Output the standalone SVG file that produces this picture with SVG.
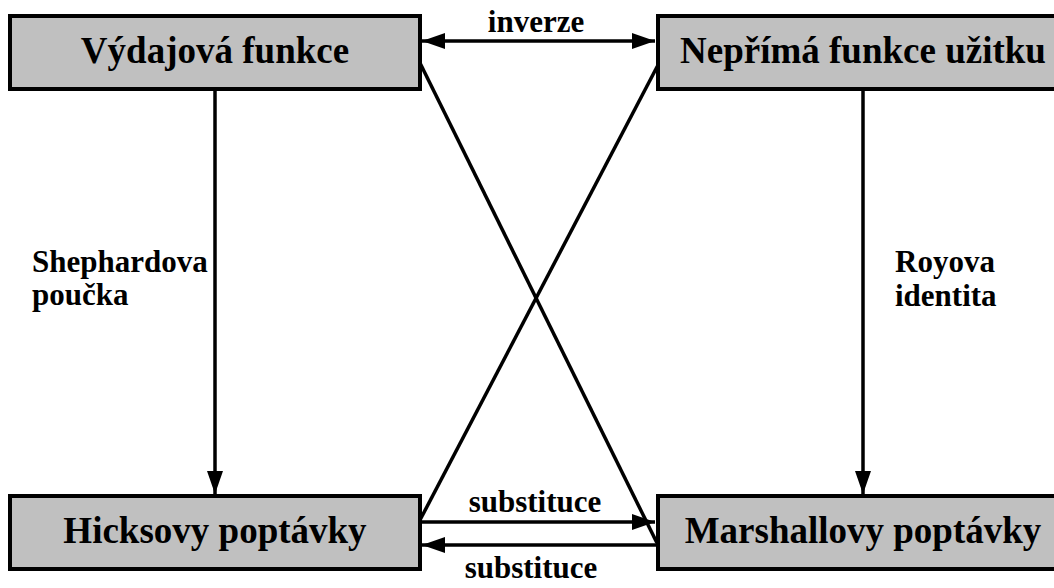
<svg xmlns="http://www.w3.org/2000/svg" width="1054" height="588" viewBox="0 0 1054 588">
<style>
.box{fill:#c0c0c0;stroke:#000;stroke-width:4}
.bt{font-family:"Liberation Serif","Times New Roman",serif;font-weight:bold;font-size:37px;text-anchor:middle;fill:#000}
.lb{font-family:"Liberation Serif","Times New Roman",serif;font-weight:bold;font-size:31px;fill:#000}
.c{stroke:#000;stroke-width:3.5;fill:none}
</style>
<defs>
<marker id="ah" markerUnits="userSpaceOnUse" viewBox="0 0 23 16" markerWidth="23" markerHeight="16" refX="23" refY="8" orient="auto-start-reverse">
<path d="M0,0 L23,8 L0,16 z" fill="#000"/>
</marker>
</defs>
<g id="connectors">
<line class="c" x1="422" y1="41" x2="655" y2="41" marker-start="url(#ah)" marker-end="url(#ah)"/>
<line class="c" x1="215" y1="90" x2="215" y2="494" marker-end="url(#ah)"/>
<line class="c" x1="863" y1="90" x2="863" y2="494" marker-end="url(#ah)"/>
<line class="c" x1="420" y1="63" x2="657" y2="543"/>
<line class="c" x1="658" y1="65" x2="420" y2="520"/>
<line class="c" x1="421" y1="522" x2="655" y2="522" marker-end="url(#ah)"/>
<line class="c" x1="657" y1="545" x2="422" y2="545" marker-end="url(#ah)"/>
<text class="lb" x="536" y="32" text-anchor="middle">inverze</text>
<text class="lb" x="32" y="272">Shephardova</text>
<text class="lb" x="32" y="305">poučka</text>
<text class="lb" x="895" y="272">Royova</text>
<text class="lb" x="895" y="306">identita</text>
<text class="lb" x="535" y="512" text-anchor="middle">substituce</text>
<text class="lb" x="531" y="578" text-anchor="middle">substituce</text>
</g>
<g id="vydajova">
<rect class="box" x="10" y="16" width="410" height="73"/>
<text class="bt" x="215" y="63">Výdajová funkce</text>
</g>
<g id="neprima">
<rect class="box" x="658" y="16" width="410" height="73"/>
<text class="bt" x="863" y="63">Nepřímá funkce užitku</text>
</g>
<g id="hicks">
<rect class="box" x="10" y="496" width="410" height="73"/>
<text class="bt" x="215" y="543">Hicksovy poptávky</text>
</g>
<g id="marshall">
<rect class="box" x="658" y="496" width="410" height="73"/>
<text class="bt" x="863" y="543">Marshallovy poptávky</text>
</g>
</svg>
